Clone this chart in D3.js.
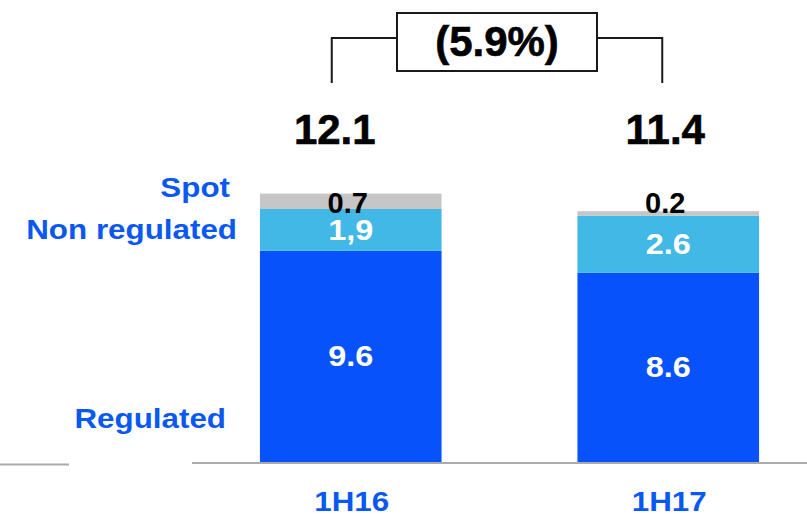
<!DOCTYPE html>
<html>
<head>
<meta charset="utf-8">
<script src="https://cdn.jsdelivr.net/npm/d3@7"></script>
<style>
  body { margin: 0; background: #fff; }
  text { font-family: "Liberation Sans", Arial, sans-serif; font-weight: bold; }
</style>
</head>
<body>
<svg id="chart" width="807" height="516"></svg>
<script>
// data
var periods = ["1H16", "1H17"];
var regulated = [9.6, 8.6];
var nonRegulated = [1.9, 2.6];
var spot = [0.7, 0.2];
var totals = [12.1, 11.4];
var segmentLabels = [["9.6", "1,9", "0.7"], ["8.6", "2.6", "0.2"]];
var seriesNames = ["Regulated", "Non regulated", "Spot"];
var changeLabel = "(5.9%)";

var width = 807, height = 516;
var blue = "#0752FA", lightBlue = "#41B8E5", grey = "#C6C6C6", labelBlue = "#0A58F2";
var stretch = 1.12;

var svg = d3.select("#chart");

var x = d3.scaleBand()
    .domain(periods)
    .range([192, 827])
    .paddingInner(0.428)
    .paddingOuter(0.214);

var y = d3.scaleLinear()
    .domain([0, 13])
    .range([462, 462 - 22 * 13]);

// stack the series
var rows = periods.map(function(p, i) {
  return { period: p, Regulated: regulated[i], "Non regulated": nonRegulated[i], Spot: spot[i] };
});
var stack = d3.stack().keys(seriesNames)(rows);
var colors = d3.scaleOrdinal().domain(seriesNames).range([blue, lightBlue, grey]);

// baseline
svg.append("line").attr("x1", 0).attr("x2", 69).attr("y1", 464.5).attr("y2", 464.5)
    .style("stroke", "#ABABAB").style("stroke-width", 2);
svg.append("line").attr("x1", x.range()[0]).attr("x2", width).attr("y1", y(0) + 1).attr("y2", y(0) + 1)
    .style("stroke", "#ABABAB").style("stroke-width", 2);

// bars
var layers = svg.append("g").attr("id", "bars");
layers.selectAll("g")
    .data(stack)
    .enter()
    .append("g")
    .style("fill", function(d) { return colors(d.key); })
    .selectAll("rect")
    .data(function(d) { return d; })
    .enter()
    .append("rect")
    .attr("x", function(d) { return x(d.data.period); })
    .attr("width", x.bandwidth())
    .attr("y", function(d) { return y(d[1]); })
    .attr("height", function(d) { return y(d[0]) - y(d[1]); });

// segment labels (regulated & non regulated, white, centred)
stack.slice(0, 2).forEach(function(layer, k) {
  layer.forEach(function(d, i) {
    var cx = x(d.data.period) + x.bandwidth() / 2;
    var cy = (y(d[0]) + y(d[1])) / 2 + 10;
    svg.append("text")
        .attr("transform", "translate(" + cx + "," + cy + ") scale(" + stretch + ",1)")
        .attr("text-anchor", "middle")
        .style("font-size", "29px")
        .style("fill", "#fff")
        .text(segmentLabels[i][k]);
  });
});

// spot labels (black, on top)
var spotLabelY = 213;
stack[2].forEach(function(d, i) {
  svg.append("text")
      .attr("x", x(d.data.period) + x.bandwidth() / 2 - 3)
      .attr("y", spotLabelY)
      .attr("text-anchor", "middle")
      .style("font-size", "29px")
      .style("fill", "#000")
      .text(segmentLabels[i][2]);
});

// category labels
periods.forEach(function(p) {
  var cx = x(p) + x.bandwidth() / 2 + 1;
  svg.append("text")
      .attr("transform", "translate(" + cx + ",511) scale(" + stretch + ",1)")
      .attr("text-anchor", "middle")
      .style("font-size", "28px")
      .style("fill", labelBlue)
      .text(p);
});

// series legend labels on the left
var legend = [
  { name: "Spot", x: 230, y: 197 },
  { name: "Non regulated", x: 237, y: 239 },
  { name: "Regulated", x: 226, y: 428 }
];
legend.forEach(function(l) {
  svg.append("text")
      .attr("transform", "translate(" + l.x + "," + l.y + ") scale(" + stretch + ",1)")
      .attr("text-anchor", "end")
      .style("font-size", "28px")
      .style("fill", labelBlue)
      .text(l.name);
});

// totals and change bracket
var totalDx = [-19, -6];
var bx = periods.map(function(p, i) { return x(p) + x.bandwidth() / 2 + totalDx[i]; });

totals.forEach(function(t, i) {
  svg.append("text")
      .attr("x", bx[i] + 3)
      .attr("y", 144)
      .attr("text-anchor", "middle")
      .style("font-size", "42px")
      .style("fill", "#000")
      .style("stroke", "#000")
      .style("stroke-width", 0.6)
      .text(d3.format(".1f")(t));
});

var box = { x0: 397, x1: 597, y0: 13, y1: 71 };
var bracket = svg.append("g").attr("id", "bracket")
    .style("fill", "none").style("stroke", "#1a1a1a").style("stroke-width", 2);
bracket.append("path")
    .attr("d", "M" + bx[0] + ",83V38H" + box.x0);
bracket.append("path")
    .attr("d", "M" + box.x1 + ",38H" + bx[1] + "V83");
bracket.append("rect")
    .attr("x", box.x0).attr("y", box.y0)
    .attr("width", box.x1 - box.x0).attr("height", box.y1 - box.y0)
    .style("fill", "#fff");

svg.append("text")
    .attr("x", (box.x0 + box.x1) / 2)
    .attr("y", 56)
    .attr("text-anchor", "middle")
    .style("font-size", "42px")
    .style("fill", "#000")
    .style("stroke", "#000")
    .style("stroke-width", 0.6)
    .text(changeLabel);
</script>
</body>
</html>
